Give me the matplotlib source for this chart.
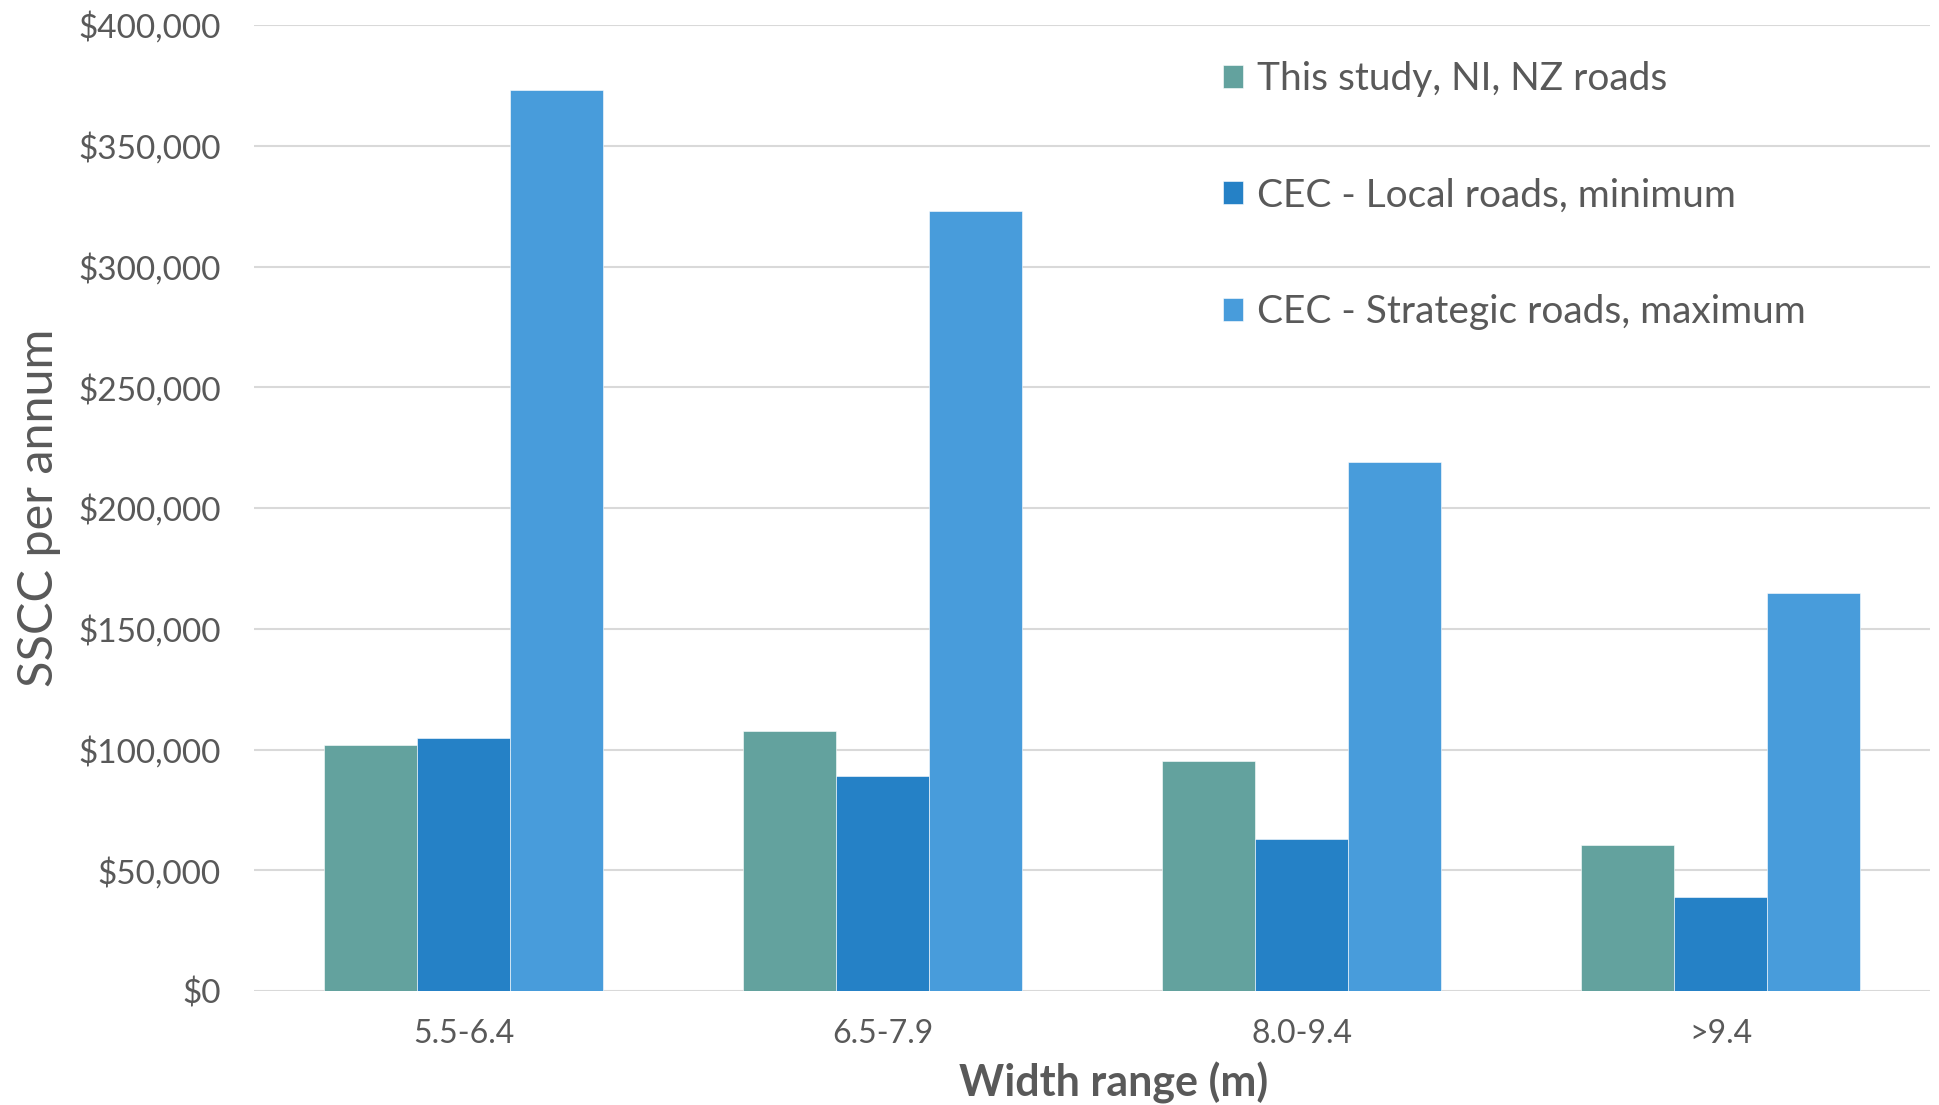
import numpy as np
import matplotlib
matplotlib.use('Agg')
import matplotlib.pyplot as plt
from matplotlib.ticker import FuncFormatter

# data
categories = ['5.5-6.4', '6.5-7.9', '8.0-9.4', '>9.4']
this_study = [101850, 107460, 95440, 60640]
cec_local_min = [104800, 88890, 63120, 38950]
cec_strategic_max = [373150, 323000, 218920, 164920]
series_labels = ['This study, NI, NZ roads',
                 'CEC - Local roads, minimum',
                 'CEC - Strategic roads, maximum']
colors = ['#63A29E', '#2581C6', '#489CDB']
text_col = '#595959'

plt.rcParams['font.family'] = ['Lato', 'DejaVu Sans']

fig = plt.figure(figsize=(19.39, 11.05), dpi=100)
ax = fig.add_axes([254/1939, 1-991/1105, (1930-254)/1939, (991-25)/1105])

x = np.arange(len(categories))
w = 0.222
for i, vals in enumerate([this_study, cec_local_min, cec_strategic_max]):
    ax.bar(x + (i-1)*w, vals, w, color=colors[i], label=series_labels[i],
           edgecolor='white', linewidth=0.4, zorder=2)

ax.set_xlim(-0.5, len(categories)-0.5)
ax.set_ylim(0, 400000)
ax.set_yticks(np.arange(0, 400001, 50000))
ax.yaxis.set_major_formatter(FuncFormatter(lambda v, p: '${:,.0f}'.format(v)))
ax.set_xticks(x)
ax.set_xticklabels(categories)

ax.grid(axis='y', color='#D9D9D9', linewidth=1.5)
ax.set_axisbelow(True)
for s in ax.spines.values():
    s.set_visible(False)
ax.tick_params(axis='both', length=0, colors=text_col, labelsize=24)
ax.tick_params(axis='y', pad=24)
ax.tick_params(axis='x', pad=20, labelsize=23)

ax.set_ylabel('SSCC per annum', fontsize=35, color=text_col)
ax.yaxis.label.set_va('center')
ax.yaxis.set_label_coords(-0.128, 0.5)
ax.set_xlabel('Width range (m)', fontsize=31, fontweight='bold', color=text_col)
ax.xaxis.label.set_va('center')
ax.xaxis.set_label_coords(0.513, -0.0953)

leg = ax.legend(loc='upper left', bbox_to_anchor=(1223/1939, 1-61/1105),
                bbox_transform=fig.transFigure, frameon=False, fontsize=28,
                handlelength=0.52, handleheight=0.52, handletextpad=0.35,
                labelspacing=2.07, borderpad=0, borderaxespad=0)
for t in leg.get_texts():
    t.set_color(text_col)

plt.savefig('out.png', dpi=100, facecolor='white')
